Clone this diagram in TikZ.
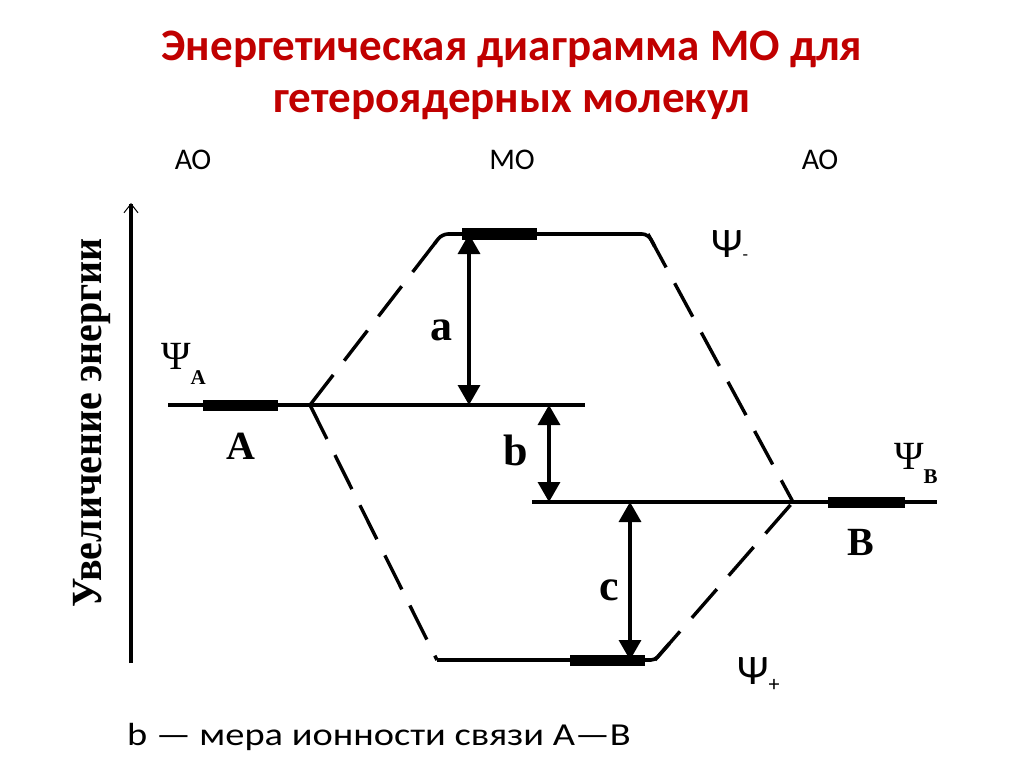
\documentclass[tikz,border=0pt]{standalone}
\usepackage{fontspec}
\setmainfont{Liberation Serif}
\newfontfamily\calib{Carlito}
\usetikzlibrary{arrows.meta,positioning,calc}
\definecolor{titlered}{RGB}{192,0,0}

\tikzset{
	level/.style={line width=3.6pt},
	orbital/.style={line width=11pt},
	corr/.style={line width=3.4pt,dash pattern=on 38pt off 18pt},
	gap/.style={line width=3.4pt,<->},
	lbl/.style={font=\bfseries\fontsize{44}{44}\selectfont,inner sep=0pt},
	atom/.style={font=\bfseries\fontsize{40}{40}\selectfont,inner sep=0pt},
	head/.style={font=\calib\fontsize{30}{30}\selectfont},
	psi/.style={font=\fontsize{40}{40}\selectfont,inner sep=0pt,anchor=base west},
	psisans/.style={psi,font=\calib\fontsize{42}{42}\selectfont},
}

\begin{document}
\begin{tikzpicture}[x=1pt,y=-1pt,>={Triangle[length=20pt,width=22pt]}]
\useasboundingbox (0,0) rectangle (1024,767);

% title
\node[font=\calib\bfseries\fontsize{45}{52}\selectfont,text=titlered,align=center] (title) at (512,75)
	{Энергетическая диаграмма МО для\\гетероядерных молекул};

\node[head] (aoA) at (193,160) {АО};
\node[head] (mo)  at (512,160) {МО};
\node[head] (aoB) at (820,160) {АО};

% energy axis
\coordinate (ax0) at (131,663);
\coordinate (ax1) at (131,203);
\draw[line width=3.2pt,-{Straight Barb[length=9pt,width=14pt,line width=1pt]}] (ax0) -- (ax1);
\node[rotate=90,font=\bfseries\fontsize{43}{43}\selectfont] (energy) at (92,423)
	{\scalebox{0.93}[1]{Увеличение энергии}};

% levels
\coordinate (A0) at (168,405);
\coordinate (jA) at (310,405);
\coordinate (A1) at (585,405);
\coordinate (B0) at (532,502);
\coordinate (jB) at (793,502);
\coordinate (B1) at (937,502);
\coordinate (TL) at (442,234);
\coordinate (TR) at (648,234);
\coordinate (BL) at (437,660);
\coordinate (BR) at (655,660);

\draw[level] (A0) -- (A1);
\draw[level] (B0) -- (B1);
\draw[level,rounded corners=6pt] ($(TL)!12pt!(jA)$) -- (TL) -- (TR) -- ($(TR)!14pt!(jB)$);
\draw[level,rounded corners=4pt] (BL) -- (BR) -- ($(BR)!22pt!(jB)$);

\draw[orbital] (203,405) -- (278,405);
\draw[orbital] (828,502) -- (905,502);
\draw[orbital] (462,234) -- (537,234);
\draw[orbital] (570,660) -- (645,660);

% correlation lines
\draw[corr] (jA) -- (TL);
\draw[corr] (jA) -- (BL);
\draw[corr] (TR) -- (jB);
\draw[corr] (BR) -- (jB);

% gaps
\coordinate (aT) at (469,234);
\coordinate (aB) at (469,405);
\coordinate (bT) at (549,405);
\coordinate (bB) at (549,502);
\coordinate (cT) at (630,502);
\coordinate (cB) at (630,660);
\draw[gap] (aT) -- (aB);
\draw[gap] (bT) -- (bB);
\draw[gap] (cT) -- (cB);
\node[lbl] (la) at (441,330) {a};
\node[lbl] (lb) at (516,450) {b};
\node[lbl] (lc) at (609,590) {c};

% labels
\node[atom] (lA) at (241,446) {A};
\node[atom] (lB) at (861,542) {B};
\node[psi] (psiA) at (161,369) {Ψ\raisebox{-15pt}{\bfseries\fontsize{21}{21}\selectfont A}};
\node[psi] (psiB) at (894,469) {Ψ\raisebox{-14pt}{\bfseries\fontsize{21}{21}\selectfont B}};
\node[psisans] (psiM) at (711,257) {Ψ\raisebox{-3pt}{\fontsize{18}{18}\selectfont -}};
\node[psisans] (psiP) at (737,684) {Ψ\raisebox{-7pt}{\fontsize{22}{22}\selectfont +}};

% note
\node[font=\calib\fontsize{32}{32}\selectfont,anchor=west,inner sep=0pt] (note) at (127,737)
	{\scalebox{1.2}[1]{b — мера ионности связи А—В}};
\end{tikzpicture}
\end{document}
